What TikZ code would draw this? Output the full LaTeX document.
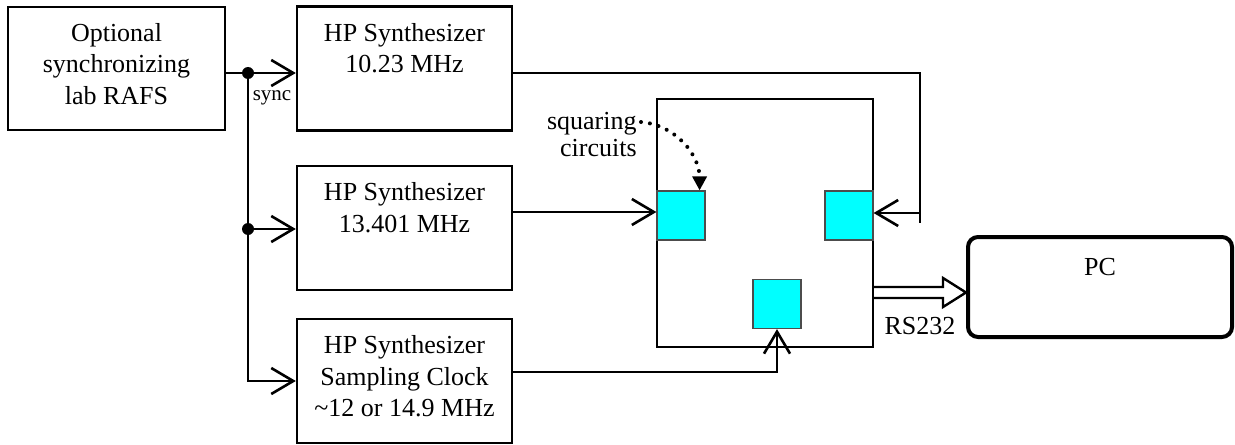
\documentclass[tikz,border=0pt]{standalone}
\usepackage{fontspec}
\setmainfont{Liberation Serif}
\usepackage{xcolor}
\usetikzlibrary{arrows.meta,calc}
\definecolor{sqcyan}{RGB}{0,255,255}

\begin{document}
\begin{tikzpicture}[
  x=0.5pt, y=-0.5pt,
  box/.style={draw, line width=1.2pt, align=center, inner sep=0pt,
              font=\fontsize{13}{15.8}\selectfont},
  synth/.style={box, minimum width=107.5pt, minimum height=62pt},
  sq/.style={draw=black!70, line width=0.6pt, fill=sqcyan, inner sep=0pt,
             minimum width=24pt, minimum height=24.5pt},
  wire/.style={line width=1.3pt},
  arr/.style={wire, -{Straight Barb[length=11pt, width=13pt, line width=1.3pt]}},
  hint/.style={line width=2pt, line cap=round, dash pattern=on 0pt off 4.5pt,
               -{Triangle[length=7pt, width=7pt]}}
]
  \useasboundingbox (0,0) rectangle (1235,444);

  % sources
  \node[box, minimum width=108.5pt, minimum height=61.5pt] (rafs) at (116.5,68.5)
    {Optional\\synchronizing\\lab RAFS\strut};
  \node[synth] (s1) at (404.5,68.5) {HP Synthesizer\\10.23 MHz\\\strut};
  \node[synth] (s2) at (404.5,228) {HP Synthesizer\\13.401 MHz\\\strut};
  \node[synth] (s3) at (404.5,381)
    {HP Synthesizer\\Sampling Clock\\\textasciitilde12 or 14.9 MHz\strut};

  % counter board with squaring circuits
  \node[draw, line width=1.1pt, minimum width=108pt, minimum height=124pt] (board) at (765,223) {};
  \node[sq] (sqL) at (681,215.5) {};
  \node[sq] (sqR) at (849,215.5) {};
  \node[sq] (sqB) at (777,304) {};

  \node[box, line width=2pt, rounded corners=5pt, minimum width=132pt,
        minimum height=50pt] (pc) at (1100,287) {PC\\\strut};

  % labels
  \node[font=\fontsize{10.5}{12}\selectfont, inner sep=0pt] (synclbl) at (272,98) {sync};
  \node[align=right, inner sep=0pt, anchor=north east,
        font=\fontsize{13}{13.5}\selectfont] (sqtxt) at (637,112) {squaring\\circuits};
  \node[font=\fontsize{13}{15.8}\selectfont, inner sep=0pt] (rslbl) at (920,326) {RS232};

  \coordinate (dot1) at (248,73);
  \coordinate (dot2) at (248,229);
  \coordinate (c1) at (920,223);
  \coordinate (c2) at (920,213);
  \coordinate (ds) at (641,122);

  % sync distribution
  \draw[wire] (rafs.east |- dot1) -- (dot1);
  \draw[arr] (dot1) -- (s1.west |- dot1);
  \draw[arr] (dot1) |- (s3.west);
  \draw[arr] (dot2) -- (s2.west |- dot2);
  \fill (dot1) circle (3pt);
  \fill (dot2) circle (3pt);

  % synthesizer outputs
  \draw[wire] (s1.east |- dot1) -| (c1);
  \draw[arr] (c2) -- (c2 -| sqR.east);
  \draw[arr] ([yshift=8pt]s2.east) -- ([yshift=8pt]s2.east -| sqL.west);
  \draw[arr] ([yshift=4.5pt]s3.east) -| (sqB.south);

  \draw[hint] (ds) to[out=-5, in=90] ([xshift=-3pt]sqL.north east);

  % RS232 link
  \coordinate (rsB) at ([yshift=-2.75pt]pc.west);
  \coordinate (rsA) at (board.east |- rsB);
  \draw[line width=1.2pt, fill=white] ([yshift=2.75pt]rsA)
    -- ([xshift=-11.5pt, yshift=2.75pt]rsB) -- ([xshift=-11.5pt, yshift=7.25pt]rsB)
    -- (rsB) -- ([xshift=-11.5pt, yshift=-7.25pt]rsB)
    -- ([xshift=-11.5pt, yshift=-2.75pt]rsB) -- ([yshift=-2.75pt]rsA);
\end{tikzpicture}
\end{document}
